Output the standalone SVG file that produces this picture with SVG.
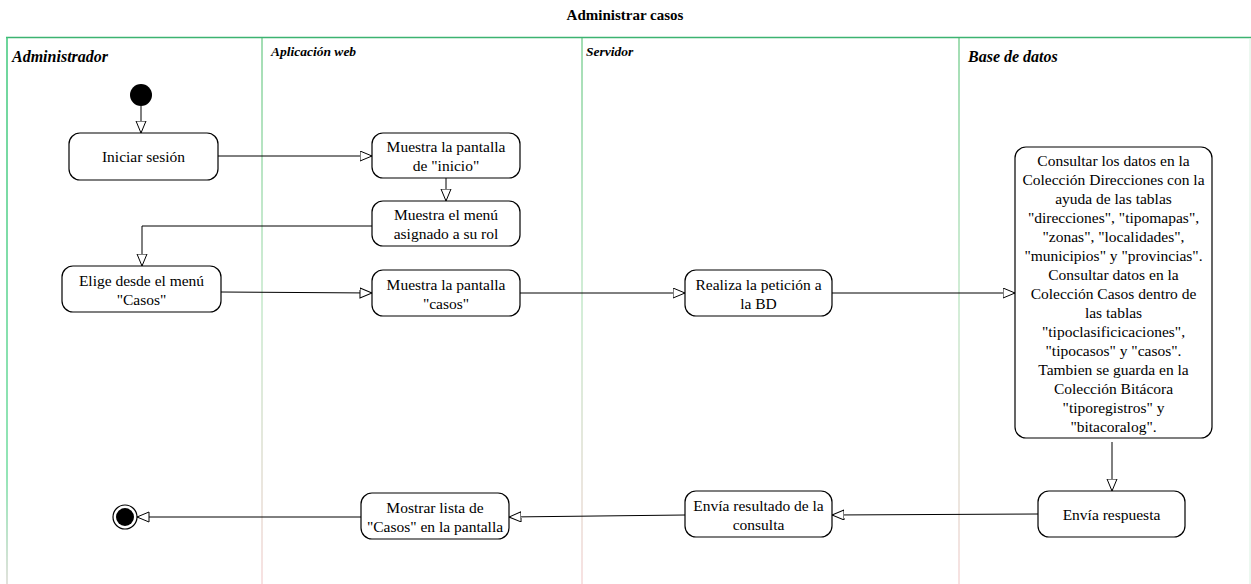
<svg xmlns="http://www.w3.org/2000/svg" width="1251" height="584" viewBox="0 0 1251 584">
<style>
.t{font-family:'Liberation Serif','DejaVu Serif',serif;font-size:15.5px;fill:#000;text-anchor:middle}
.node{fill:#fff;stroke:#000;stroke-width:1.2}
.lane{font-family:'Liberation Serif','DejaVu Serif',serif;font-weight:bold;font-style:italic;fill:#000}
.edge{fill:none;stroke:#000;stroke-width:1;marker-end:url(#arr)}
</style>
<defs>
<marker id="arr" markerUnits="userSpaceOnUse" markerWidth="14" markerHeight="12" refX="12.5" refY="5.5" orient="auto">
<path d="M0.5,0.5 L12.5,5.5 L0.5,10.5 z" fill="#fff" stroke="#000" stroke-width="1"/>
</marker>
<linearGradient id="gl" gradientUnits="userSpaceOnUse" x1="0" y1="37" x2="0" y2="584">
<stop offset="0" stop-color="#3cc77a"/>
<stop offset="0.8" stop-color="#6fdc9e"/>
<stop offset="1" stop-color="#d8d8d0"/>
</linearGradient>
<linearGradient id="gd" gradientUnits="userSpaceOnUse" x1="0" y1="37" x2="0" y2="584">
<stop offset="0" stop-color="#44bb66"/>
<stop offset="0.5" stop-color="#a8dcb0"/>
<stop offset="1" stop-color="#f0c4c4"/>
</linearGradient>
</defs>
<rect width="1251" height="584" fill="#fff"/>
<text x="625" y="20" font-family="'Liberation Serif','DejaVu Serif',serif" font-weight="bold" font-size="15" text-anchor="middle">Administrar casos</text>
<g id="frame">
<line x1="6" y1="37.5" x2="1251" y2="37.5" stroke="#3cb371" stroke-width="1.5"/>
<line x1="7" y1="37" x2="7" y2="584" stroke="url(#gl)" stroke-width="1.5"/>
<line x1="262" y1="38" x2="262" y2="584" stroke="url(#gd)" stroke-width="1"/>
<line x1="582" y1="38" x2="582" y2="584" stroke="url(#gd)" stroke-width="1"/>
<line x1="959" y1="38" x2="959" y2="584" stroke="url(#gd)" stroke-width="1"/>
<line x1="1250" y1="38" x2="1250" y2="584" stroke="#d8f0e0" stroke-width="1"/>
<text class="lane" x="12" y="62" font-size="16">Administrador</text>
<text class="lane" x="271" y="56" font-size="13.5">Aplicación web</text>
<text class="lane" x="586" y="56" font-size="13.5">Servidor</text>
<text class="lane" x="968" y="62" font-size="16">Base de datos</text>
</g>
<g id="connectors">
<line class="edge" x1="141" y1="106" x2="141" y2="133"/>
<line class="edge" x1="218" y1="156" x2="372" y2="156"/>
<line class="edge" x1="446" y1="178" x2="446" y2="201"/>
<polyline class="edge" points="372,226 142,226 142,266"/>
<line class="edge" x1="221" y1="292" x2="372" y2="293"/>
<line class="edge" x1="520" y1="293" x2="685" y2="293"/>
<line class="edge" x1="832" y1="293" x2="1015" y2="293"/>
<line class="edge" x1="1112" y1="442" x2="1112" y2="491"/>
<line class="edge" x1="1038" y1="514" x2="832" y2="515"/>
<line class="edge" x1="685" y1="515" x2="509" y2="517"/>
<line class="edge" x1="361" y1="517" x2="137" y2="517"/>
</g>
<g id="start"><circle cx="141" cy="95" r="11" fill="#000"/></g>
<g id="iniciar"><rect class="node" x="69" y="133" width="149" height="47" rx="11"/><text class="t" x="143.5" y="162">Iniciar sesión</text></g>
<g id="muestraInicio"><rect class="node" x="372" y="133" width="148" height="45" rx="11"/><text class="t" x="446" y="152">Muestra la pantalla</text><text class="t" x="446" y="171">de "inicio"</text></g>
<g id="muestraMenu"><rect class="node" x="372" y="201" width="148" height="45" rx="11"/><text class="t" x="446" y="220">Muestra el menú</text><text class="t" x="446" y="239">asignado a su rol</text></g>
<g id="elige"><rect class="node" x="62" y="266" width="159" height="46" rx="11"/><text class="t" x="141.5" y="286">Elige desde el menú</text><text class="t" x="141.5" y="305">"Casos"</text></g>
<g id="muestraCasos"><rect class="node" x="372" y="270" width="148" height="46" rx="11"/><text class="t" x="446" y="290">Muestra la pantalla</text><text class="t" x="446" y="309">"casos"</text></g>
<g id="realiza"><rect class="node" x="685" y="270" width="147" height="46" rx="11"/><text class="t" x="758.5" y="290">Realiza la petición a</text><text class="t" x="758.5" y="309">la BD</text></g>
<g id="consultar"><rect class="node" x="1015" y="147" width="197" height="291" rx="11"/>
<text class="t" x="1113.5" y="166">Consultar los datos en la</text>
<text class="t" x="1113.5" y="185">Colección Direcciones con la</text>
<text class="t" x="1113.5" y="204">ayuda de las tablas</text>
<text class="t" x="1113.5" y="223">"direcciones", "tipomapas",</text>
<text class="t" x="1113.5" y="242">"zonas", "localidades",</text>
<text class="t" x="1113.5" y="261">"municipios" y "provincias".</text>
<text class="t" x="1113.5" y="280">Consultar datos en la</text>
<text class="t" x="1113.5" y="299">Colección Casos dentro de</text>
<text class="t" x="1113.5" y="318">las tablas</text>
<text class="t" x="1113.5" y="337">"tipoclasificicaciones",</text>
<text class="t" x="1113.5" y="356">"tipocasos" y "casos".</text>
<text class="t" x="1113.5" y="375">Tambien se guarda en la</text>
<text class="t" x="1113.5" y="394">Colección Bitácora</text>
<text class="t" x="1113.5" y="413">"tiporegistros" y</text>
<text class="t" x="1113.5" y="432">"bitacoralog".</text>
</g>
<g id="enviaRespuesta"><rect class="node" x="1038" y="491" width="147" height="46" rx="11"/><text class="t" x="1111.5" y="520">Envía respuesta</text></g>
<g id="enviaResultado"><rect class="node" x="685" y="491" width="147" height="46" rx="11"/><text class="t" x="758.5" y="511">Envía resultado de la</text><text class="t" x="758.5" y="530">consulta</text></g>
<g id="mostrarLista"><rect class="node" x="361" y="493" width="148" height="46" rx="11"/><text class="t" x="435" y="513">Mostrar lista de</text><text class="t" x="435" y="532">"Casos" en la pantalla</text></g>
<g id="end"><circle cx="125" cy="517" r="12" fill="#fff" stroke="#000" stroke-width="1.2"/><circle cx="125" cy="517" r="9" fill="#000"/></g>
</svg>
